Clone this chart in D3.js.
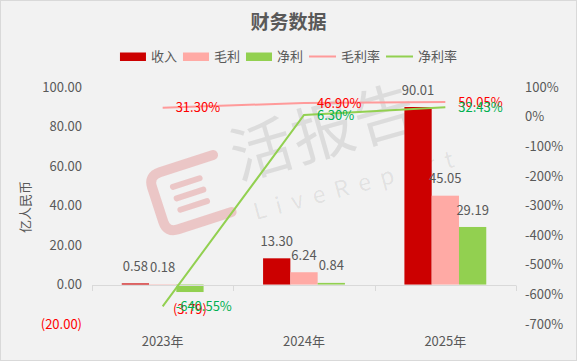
<!DOCTYPE html>
<html><head><meta charset="utf-8">
<script src="https://cdn.jsdelivr.net/npm/d3@7"></script>
<style>body{margin:0;background:#fff}svg{display:block}</style>
</head><body>
<svg id="c" width="577" height="361"></svg>
<script>
const categories = ["2023年", "2024年", "2025年"];
const revenue = [0.58, 13.30, 90.01];
const grossProfit = [0.18, 6.24, 45.05];
const netProfit = [-3.79, 0.84, 29.19];
const grossMargin = [31.30, 46.90, 50.05];
const netMargin = [-640.55, 6.30, 32.43];
const leftTicks = [-20, 0, 20, 40, 60, 80, 100];
const rightTicks = [-700, -600, -500, -400, -300, -200, -100, 0, 100];
const seriesNames = ["收入", "毛利", "净利", "毛利率", "净利率"];

const FONT = "'Microsoft YaHei','Noto Sans CJK SC','Noto Sans',sans-serif";
const TXT = "#595959";
const C_REV = "#cc0000", C_GP = "#ffaaa5", C_NP = "#92d050";
const C_GM = "#ff9a9a", C_NM = "#92d050";
const C_GM_LBL = "#ff0000", C_NM_LBL = "#00b050";

const svg = d3.select("#c").style("font-family", FONT);
svg.append("rect").attr("x", 0.5).attr("y", 0.5).attr("width", 576).attr("height", 360)
  .attr("fill", "#f2f2f2").attr("stroke", "#d9d9d9");

const x = d3.scaleBand().domain(categories).range([92, 516]).padding(0);
const inner = d3.scaleBand().domain(["rev", "gp", "np"]).range([0, x.bandwidth()]).paddingInner(0).paddingOuter(1.09);
const yL = d3.scaleLinear().domain([-20, 100]).range([324, 87.3]);
const yR = d3.scaleLinear().domain([-700, 100]).range([324, 87.3]);

// Title
svg.append("text").attr("x", 288.5).attr("y", 29).attr("text-anchor", "middle")
  .attr("font-size", 19).attr("font-weight", "bold").attr("fill", TXT).text("财务数据");

// Legend
const legend = svg.append("g");
const legItems = [
  {name: seriesNames[0], type: "rect", color: C_REV},
  {name: seriesNames[1], type: "rect", color: C_GP},
  {name: seriesNames[2], type: "rect", color: C_NP},
  {name: seriesNames[3], type: "line", color: C_GM},
  {name: seriesNames[4], type: "line", color: C_NM}
];
let lx = 0;
legItems.forEach(it => {
  const g = legend.append("g").attr("transform", `translate(${lx},0)`);
  const sw = it.type === "rect" ? 26 : 27;
  if (it.type === "rect") g.append("rect").attr("x", 0).attr("y", -4).attr("width", sw).attr("height", 8.5).attr("fill", it.color);
  else g.append("line").attr("x1", 0).attr("x2", sw).attr("y1", 0).attr("y2", 0).attr("stroke", it.color).attr("stroke-width", 2);
  const t = g.append("text").attr("x", sw + 5).attr("y", 0).attr("dy", "0.35em").attr("font-size", 13).attr("fill", TXT).text(it.name);
  const w = sw + 5 + t.node().getComputedTextLength();
  lx += w + 6;
});
const legW = lx - 6;
legend.attr("transform", `translate(${288.5 - legW / 2},56.5)`);

// Watermark
const wm = svg.append("g").attr("pointer-events", "none");
const logo = wm.append("g").attr("transform", "translate(190,194) rotate(-18)");
logo.append("path").attr("d", "M34,-30 L-22,-30 Q-34,-30 -34,-18 L-34,18 Q-34,30 -22,30 L34,30")
  .attr("fill", "none").attr("stroke", "#e8b4b4").attr("stroke-opacity", 0.7).attr("stroke-width", 10).attr("stroke-linecap", "round").attr("stroke-linejoin", "round");
[-12, 0, 12].forEach(dy => logo.append("line").attr("x1", -14).attr("x2", 14).attr("y1", dy).attr("y2", dy)
  .attr("stroke", "#e8b4b4").attr("stroke-opacity", 0.7).attr("stroke-width", 6).attr("stroke-linecap", "round"));
wm.append("text").attr("transform", "translate(238,180) rotate(-16)").attr("font-size", 62).attr("fill", "#000").attr("fill-opacity", 0.09)
  .attr("letter-spacing", 2).text("活报告");
wm.append("text").attr("transform", "translate(256,220) rotate(-15)").attr("font-size", 23).attr("fill", "#000").attr("fill-opacity", 0.08)
  .attr("letter-spacing", 10).text("LiveReport");

// Y axis title
svg.append("text").attr("transform", "translate(25,207) rotate(-90)").attr("text-anchor", "middle").attr("dy", "0.35em")
  .attr("font-size", 13).attr("fill", TXT).text("亿人民币");

// Left ticks
svg.append("g").selectAll("text").data(leftTicks).join("text")
  .attr("x", 82).attr("y", d => yL(d)).attr("dy", "0.35em").attr("text-anchor", "end")
  .attr("font-size", 13).attr("fill", d => d < 0 ? "#ff0000" : TXT)
  .text(d => d < 0 ? `(${Math.abs(d).toFixed(2)})` : d.toFixed(2));

// Right ticks
svg.append("g").selectAll("text").data(rightTicks).join("text")
  .attr("x", 525).attr("y", d => yR(d)).attr("dy", "0.35em").attr("text-anchor", "start")
  .attr("font-size", 13).attr("fill", TXT).text(d => d + "%");

// Bars
const barData = [];
categories.forEach((c, i) => {
  barData.push({c, k: "rev", v: revenue[i], color: C_REV});
  barData.push({c, k: "gp", v: grossProfit[i], color: C_GP});
  barData.push({c, k: "np", v: netProfit[i], color: C_NP});
});
svg.append("g").selectAll("rect").data(barData).join("rect")
  .attr("x", d => x(d.c) + inner(d.k)).attr("width", inner.bandwidth())
  .attr("y", d => yL(Math.max(0, d.v))).attr("height", d => Math.abs(yL(d.v) - yL(0)))
  .attr("fill", d => d.color);

// X axis
const y0 = yL(0);
const ax = svg.append("g").attr("stroke", "#d9d9d9").attr("stroke-width", 1);
ax.append("line").attr("x1", 92).attr("x2", 516).attr("y1", Math.round(y0) + 0.5).attr("y2", Math.round(y0) + 0.5);
const bounds = categories.map(c => x(c)).concat([x(categories[2]) + x.bandwidth()]);
ax.selectAll("line.t").data(bounds).join("line").attr("class", "t")
  .attr("x1", d => Math.round(d) + 0.5).attr("x2", d => Math.round(d) + 0.5)
  .attr("y1", Math.round(y0) + 0.5).attr("y2", Math.round(y0) + 6);
svg.append("g").selectAll("text").data(categories).join("text")
  .attr("x", d => x(d) + x.bandwidth() / 2).attr("y", 341).attr("dy", "0.35em").attr("text-anchor", "middle")
  .attr("font-size", 13).attr("fill", TXT).text(d => d);

// Lines
const cx = c => x(c) + x.bandwidth() / 2;
const line = d3.line().x(d => cx(d.c)).y(d => yR(d.v));
const gmPts = categories.map((c, i) => ({c, v: grossMargin[i]}));
const nmPts = categories.map((c, i) => ({c, v: netMargin[i]}));
svg.append("path").datum(gmPts).attr("d", line).attr("fill", "none").attr("stroke", C_GM).attr("stroke-width", 2);
svg.append("path").datum(nmPts).attr("d", line).attr("fill", "none").attr("stroke", C_NM).attr("stroke-width", 2);

// Bar labels
svg.append("g").selectAll("text").data(barData).join("text")
  .attr("x", d => x(d.c) + inner(d.k) + inner.bandwidth() / 2)
  .attr("y", d => d.v >= 0 ? yL(d.v) - 17 : yL(d.v) + 17).attr("dy", "0.35em")
  .attr("text-anchor", "middle").attr("font-size", 13)
  .attr("fill", d => d.v < 0 ? "#ff0000" : TXT)
  .text(d => d.v < 0 ? `(${Math.abs(d.v).toFixed(2)})` : d.v.toFixed(2));

// Line labels
svg.append("g").selectAll("text").data(gmPts).join("text")
  .attr("x", d => cx(d.c) + 13).attr("y", d => yR(d.v)).attr("dy", "0.35em")
  .attr("font-size", 13).attr("fill", C_GM_LBL).text(d => d.v.toFixed(2) + "%");
svg.append("g").selectAll("text").data(nmPts).join("text")
  .attr("x", d => cx(d.c) + 13).attr("y", d => yR(d.v)).attr("dy", "0.35em")
  .attr("font-size", 13).attr("fill", C_NM_LBL).text(d => d.v.toFixed(2) + "%");
</script>
</body></html>
